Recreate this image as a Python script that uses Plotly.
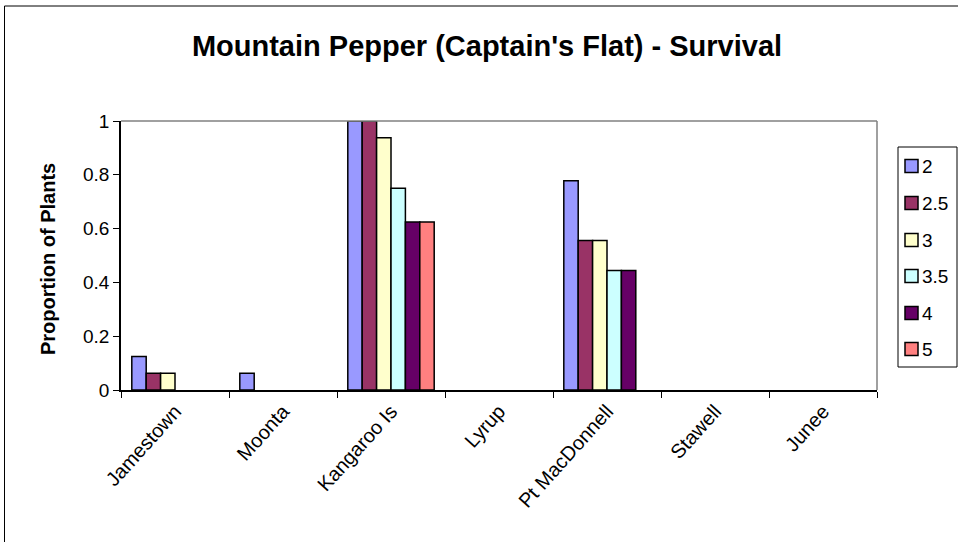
import plotly.graph_objects as go

sites = ["Jamestown", "Moonta", "Kangaroo Is", "Lyrup", "Pt MacDonnell", "Stawell", "Junee"]
series_names = ["2", "2.5", "3", "3.5", "4", "5"]

s_2 = [0.125, 0.0625, 1.0, None, 0.778, None, None]
s_2_5 = [0.0625, None, 1.0, None, 0.556, None, None]
s_3 = [0.0625, None, 0.9375, None, 0.556, None, None]
s_3_5 = [None, None, 0.75, None, 0.444, None, None]
s_4 = [None, None, 0.625, None, 0.444, None, None]
s_5 = [None, None, 0.625, None, None, None, None]

series_values = [s_2, s_2_5, s_3, s_3_5, s_4, s_5]
colors = ["#9999FF", "#993366", "#FFFFCC", "#CCFFFF", "#660066", "#FF8080"]

FONT = "Liberation Sans, Arial, sans-serif"

# plot area in pixels: x 121..877, y 121..390
L, R, T, B = 121, 877, 121, 390


def px_x(x):
    return (x - L) / (R - L)


def px_y(y):
    return (B - y) / (B - T)


fig = go.Figure()

for name, values, color in zip(series_names, series_values, colors):
    fig.add_trace(
        go.Bar(
            x=sites,
            y=values,
            name=name,
            marker=dict(color=color, line=dict(color="black", width=1.5)),
            showlegend=False,
        )
    )

shapes = [
    # chart area border (left and top)
    dict(type="line", xref="paper", yref="paper",
         x0=px_x(4.5), x1=px_x(4.5), y0=px_y(560), y1=px_y(6),
         line=dict(color="black", width=1)),
    dict(type="line", xref="paper", yref="paper",
         x0=px_x(4.5), x1=px_x(970), y0=px_y(6), y1=px_y(6),
         line=dict(color="black", width=1)),
    # plot area border (top and right, gray)
    dict(type="line", xref="paper", yref="paper",
         x0=0, x1=1, y0=1, y1=1, line=dict(color="#808080", width=1.5)),
    dict(type="line", xref="paper", yref="paper",
         x0=1, x1=1, y0=0, y1=1, line=dict(color="#808080", width=1.5)),
    # legend box
    dict(type="rect", xref="paper", yref="paper",
         x0=px_x(898), x1=px_x(957), y0=px_y(367), y1=px_y(147),
         line=dict(color="black", width=1), fillcolor="white", layer="below"),
]

annotations = [
    dict(text="<b>Proportion of Plants</b>", xref="paper", yref="paper",
         x=px_x(48), y=px_y(259), textangle=-90, showarrow=False,
         xanchor="center", yanchor="middle",
         font=dict(family=FONT, size=20, color="black")),
]

# legend drawn by hand so spacing matches the original
legend_ys = [166, 203, 240, 276, 313, 349]
for name, color, ly in zip(series_names, colors, legend_ys):
    shapes.append(
        dict(type="rect", xref="paper", yref="paper",
             x0=px_x(905), x1=px_x(918), y0=px_y(ly + 6.5), y1=px_y(ly - 6.5),
             line=dict(color="black", width=1.5), fillcolor=color)
    )
    annotations.append(
        dict(text=name, xref="paper", yref="paper",
             x=px_x(920), y=px_y(ly), showarrow=False,
             xanchor="left", yanchor="middle",
             font=dict(family=FONT, size=19, color="black"))
    )

fig.update_layout(
    width=958,
    height=542,
    margin=dict(l=L, r=958 - R, t=T, b=542 - B),
    paper_bgcolor="white",
    plot_bgcolor="white",
    barmode="group",
    bargap=0.2,
    bargroupgap=0,
    title=dict(
        text="<b>Mountain Pepper (Captain's Flat) - Survival</b>",
        x=487 / 958,
        xanchor="center",
        y=1 - 46 / 542,
        yanchor="middle",
        font=dict(family=FONT, size=29, color="black"),
    ),
    font=dict(family=FONT, size=18, color="black"),
    shapes=shapes,
    annotations=annotations,
    xaxis=dict(
        type="category",
        tickangle=-48,
        ticks="outside",
        ticklen=6,
        tickcolor="black",
        tickson="boundaries",
        showline=True,
        linecolor="black",
        linewidth=1.5,
        showgrid=False,
        tickfont=dict(family=FONT, size=20, color="black"),
    ),
    yaxis=dict(
        range=[0, 1],
        dtick=0.2,
        ticks="outside",
        ticklen=6,
        tickcolor="black",
        showline=True,
        linecolor="black",
        linewidth=1.5,
        showgrid=False,
        zeroline=False,
        tickfont=dict(family=FONT, size=19, color="black"),
    ),
)

fig.write_html(
    "out.html",
    config={"displayModeBar": False},
    post_script="document.body.style.margin='0px';",
)
